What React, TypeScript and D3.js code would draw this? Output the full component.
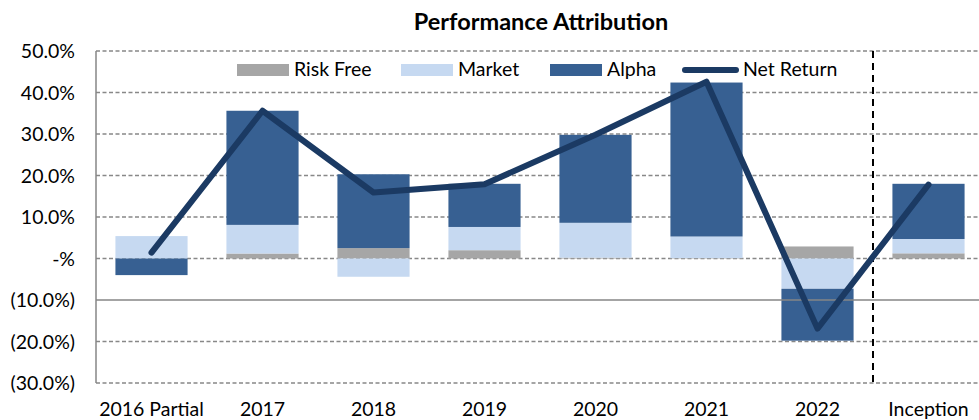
import React from 'react';
import * as d3 from 'd3';

// Performance attribution, values in %
const categories = ['2016 Partial', '2017', '2018', '2019', '2020', '2021', '2022', 'Inception'];
const riskFree = [0.0, 1.2, 2.5, 2.0, 0.2, 0.1, 2.9, 1.25];
const market = [5.4, 6.9, -4.4, 5.6, 8.4, 5.2, -7.3, 3.45];
const alpha = [-4.0, 27.5, 17.8, 10.4, 21.2, 37.1, -12.5, 13.3];
const netReturn = [1.4, 35.6, 15.9, 17.9, 29.8, 42.6, -16.9, 17.8];
const yTicks = [50, 40, 30, 20, 10, 0, -10, -20, -30];

const seriesKeys = ['riskFree', 'market', 'alpha'];
const seriesNames: Record<string, string> = { riskFree: 'Risk Free', market: 'Market', alpha: 'Alpha' };
const colors: Record<string, string> = { riskFree: '#a6a6a6', market: '#c6d9f1', alpha: '#376092' };
const lineColor = '#1b3a63';
const FONT = 'Lato, "Open Sans", sans-serif';
const LABEL_SIZE = 19.5;

const fmt = (v: number) => {
  if (v === 0) return '-%';
  const s = Math.abs(v).toFixed(1) + '%';
  return v < 0 ? `(${s})` : s;
};

export default function App() {
  const width = 979;
  const height = 420;
  const left = 96;
  const right = 984;
  const top = 51;
  const bottom = 383;

  const table = categories.map((c, i) => ({
    cat: c,
    riskFree: riskFree[i],
    market: market[i],
    alpha: alpha[i],
  }));

  const stacked = d3.stack<any>().keys(seriesKeys).offset(d3.stackOffsetDiverging)(table);

  const x = d3.scaleBand().domain(categories).range([left, right]).paddingInner(0.35).paddingOuter(0.175);
  const y = d3.scaleLinear().domain([-30, 50]).range([bottom, top]);

  const line = d3.line<number>()
    .x((_, i) => (x(categories[i]) as number) + x.bandwidth() / 2)
    .y(d => y(d));

  const dividerX = ((x('2022') as number) + x.bandwidth() / 2 + (x('Inception') as number) + x.bandwidth() / 2) / 2;

  const legend = [
    { key: 'riskFree', x: 237, tx: 294 },
    { key: 'market', x: 401, tx: 458 },
    { key: 'alpha', x: 550, tx: 607 },
  ];

  return (
    <svg width={width} height={height} style={{ position: 'absolute', left: 0, top: 0, background: '#fff' }} fontFamily={FONT}>
      <text x={541} y={30} textAnchor="middle" fontSize={23.5} fontWeight="bold" fill="#000">
        Performance Attribution
      </text>

      {/* gridlines */}
      {yTicks.filter(t => t !== -10).map(t => (
        <line key={t} x1={left} x2={right} y1={y(t)} y2={y(t)} stroke="#888" strokeWidth={1.3} strokeDasharray="4,2.5" />
      ))}

      {/* y labels */}
      {yTicks.map(t => (
        <text key={'l' + t} x={75} y={y(t)} dy="0.36em" textAnchor="end" fontSize={LABEL_SIZE} fill="#000">
          {fmt(t)}
        </text>
      ))}

      {/* bars */}
      {stacked.map(s => (
        <g key={s.key} fill={colors[s.key]}>
          {s.map((d, i) => (
            <rect
              key={i}
              x={x(categories[i])}
              width={x.bandwidth()}
              y={y(Math.max(d[0], d[1]))}
              height={Math.abs(y(d[0]) - y(d[1]))}
            />
          ))}
        </g>
      ))}

      {/* axes */}
      <line x1={left} x2={left} y1={top} y2={bottom} stroke="#868686" strokeWidth={1.5} />
      <line x1={left} x2={right} y1={y(-10)} y2={y(-10)} stroke="#868686" strokeWidth={1.5} />

      {/* divider before inception */}
      <line x1={dividerX} x2={dividerX} y1={top} y2={bottom} stroke="#000" strokeWidth={2} strokeDasharray="7,5" />

      {/* net return */}
      <path d={line(netReturn) || ''} fill="none" stroke={lineColor} strokeWidth={6} strokeLinejoin="round" strokeLinecap="round" />

      {/* x labels */}
      {categories.map(c => (
        <text key={c} x={(x(c) as number) + x.bandwidth() / 2} y={416} textAnchor="middle" fontSize={LABEL_SIZE} fill="#000">
          {c}
        </text>
      ))}

      {/* legend */}
      {legend.map(l => (
        <g key={l.key}>
          <rect x={l.x} y={64} width={52} height={12} fill={colors[l.key]} />
          <text x={l.tx} y={76} fontSize={LABEL_SIZE} fill="#000">{seriesNames[l.key]}</text>
        </g>
      ))}
      <line x1={685} x2={736} y1={70} y2={70} stroke={lineColor} strokeWidth={6} strokeLinecap="round" />
      <text x={743} y={76} fontSize={LABEL_SIZE} fill="#000">Net Return</text>
    </svg>
  );
}
